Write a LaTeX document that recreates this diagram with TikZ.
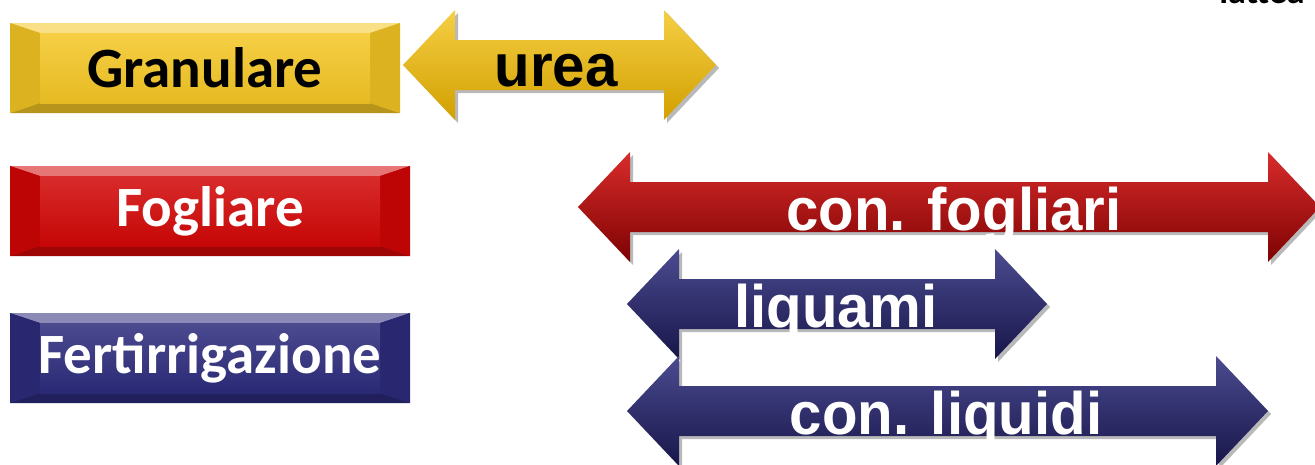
\documentclass[tikz,border=0pt]{standalone}
\usepackage{fontspec}
\setmainfont{Carlito}
\newfontfamily\arrowfont{Liberation Sans}
\usetikzlibrary{calc}

\definecolor{granyellow}{HTML}{F4C624}
\definecolor{granyellowdark}{HTML}{D2A000}
\definecolor{fogred}{HTML}{D20606}
\definecolor{fogreddark}{HTML}{7E0202}
\definecolor{fertblue}{HTML}{2C2B7C}
\definecolor{fertbluedark}{HTML}{17164A}

\tikzset{
	boxlabel/.style={font=\bfseries\fontsize{57}{60}\selectfont, inner sep=0pt},
	arrowlabel/.style={font=\arrowfont\bfseries\fontsize{60}{62}\selectfont,
		inner sep=0pt, anchor=base, xscale=0.97},
	arrowshadow/.style={fill=gray!55}
}
% bevelled box: x1, y1, x2, y2, colour
\newcommand{\bevelbox}[5]{
	\fill[#5] (#1,#2) rectangle (#3,#4);
	\fill[#5!55!white] (#1,#2) -- (#3,#2) -- (#3-30,#2+10) -- (#1+30,#2+10) -- cycle;
	\fill[#5!75!black] (#1,#4) -- (#3,#4) -- (#3-30,#4-10) -- (#1+30,#4-10) -- cycle;
	\fill[#5!90!black] (#1,#2) -- (#1+30,#2+10) -- (#1+30,#4-10) -- (#1,#4) -- cycle;
	\fill[#5!90!black] (#3,#2) -- (#3-30,#2+10) -- (#3-30,#4-10) -- (#3,#4) -- cycle;
	\shade[top color=#5!85!white, bottom color=#5!94!black]
		(#1+30,#2+10) rectangle (#3-30,#4-10);
}
% double arrow: x1, x2, y centre, colour, dark colour
\newcommand{\dblarrow}[5]{
	\fill[arrowshadow, shift={(3,3)}]
		(#1,#3) -- (#1+52,#3-55) -- (#1+52,#3-25) -- (#2-52,#3-25) -- (#2-52,#3-55)
		-- (#2,#3) -- (#2-52,#3+55) -- (#2-52,#3+25) -- (#1+52,#3+25) -- (#1+52,#3+55) -- cycle;
	\shade[top color=#4!85!white, middle color=#4, bottom color=#5]
		(#1,#3) -- (#1+52,#3-55) -- (#1+52,#3-25) -- (#2-52,#3-25) -- (#2-52,#3-55)
		-- (#2,#3) -- (#2-52,#3+55) -- (#2-52,#3+25) -- (#1+52,#3+25) -- (#1+52,#3+55) -- cycle;
}

\begin{document}
\begin{tikzpicture}[x=1pt, y=-1pt]
	\useasboundingbox[fill=white] (0,0) rectangle (1315,464);

	% boxes on the left
	\bevelbox{10}{23}{400}{113}{granyellow}
	\bevelbox{10}{166}{410}{256}{fogred}
	\bevelbox{10}{313}{410}{403}{fertblue}
	\node[boxlabel] (granulare) at (205,68) {Granulare};
	\node[boxlabel, text=white] (fogliare) at (210,211) {Fogliare};
	\node[boxlabel, text=white] (fertirr) at (210,358) {Fertirrigazione};

	% arrows on the right
	\dblarrow{403}{716}{65}{granyellow}{granyellowdark}
	\dblarrow{578}{1320}{207}{fogred}{fogreddark}
	\dblarrow{627}{1047}{304}{fertblue}{fertbluedark}
	\dblarrow{627}{1268}{411}{fertblue}{fertbluedark}
	\node[arrowlabel] (urea) at (556,86) {urea};
	\node[arrowlabel, text=white] (confogl) at (954,230) {con. fogliari};
	\node[arrowlabel, text=white] (liquami) at (836,327) {liquami};
	\node[arrowlabel, text=white] (conliq) at (946,434) {con. liquidi};

	% cut text, top right
	\node[font=\bfseries\fontsize{36}{40}\selectfont, anchor=base, inner sep=0pt]
		(lattea) at (1262,3) {lattea};
\end{tikzpicture}
\end{document}
